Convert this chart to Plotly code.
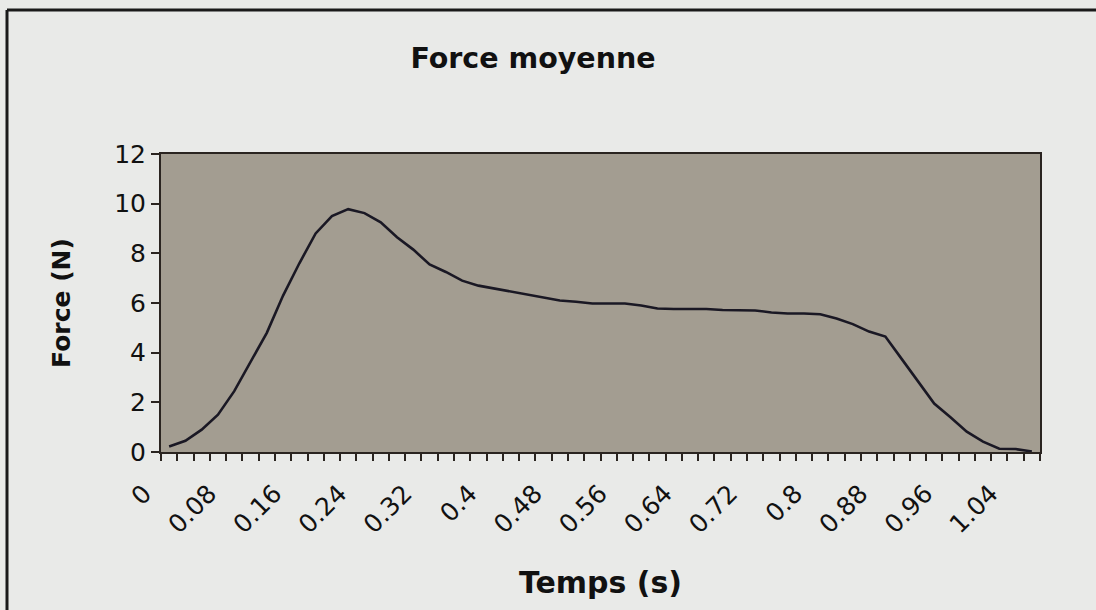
import plotly.graph_objects as go

# Time categories (s), one every 0.02 s
temps = ["0", "0.02", "0.04", "0.06", "0.08", "0.1", "0.12", "0.14", "0.16", "0.18",
         "0.2", "0.22", "0.24", "0.26", "0.28", "0.3", "0.32", "0.34", "0.36", "0.38",
         "0.4", "0.42", "0.44", "0.46", "0.48", "0.5", "0.52", "0.54", "0.56", "0.58",
         "0.6", "0.62", "0.64", "0.66", "0.68", "0.7", "0.72", "0.74", "0.76", "0.78",
         "0.8", "0.82", "0.84", "0.86", "0.88", "0.9", "0.92", "0.94", "0.96", "0.98",
         "1", "1.02", "1.04", "1.06"]

# Average force (N)
force = [0.22, 0.45, 0.90, 1.50, 2.45, 3.60, 4.80, 6.30, 7.60, 8.80,
         9.50, 9.78, 9.62, 9.25, 8.65, 8.15, 7.55, 7.25, 6.90, 6.70,
         6.58, 6.45, 6.32, 6.20, 6.10, 6.05, 5.98, 5.98, 5.98, 5.90,
         5.78, 5.76, 5.76, 5.76, 5.72, 5.70, 5.70, 5.62, 5.58, 5.58,
         5.55, 5.38, 5.15, 4.85, 4.65, 3.75, 2.85, 1.95, 1.40, 0.82,
         0.42, 0.13, 0.12, 0.02]

# Labelled categories (every 4th)
tick_labels = ["0", "0.08", "0.16", "0.24", "0.32", "0.4", "0.48", "0.56",
               "0.64", "0.72", "0.8", "0.88", "0.96", "1.04"]

y_ticks = [0, 2, 4, 6, 8, 10, 12]

ticktext = [t if t in tick_labels else "" for t in temps]

W, H = 1096, 610
L, R, T, B = 161, 56, 154, 158
pw, ph = W - L - R, H - T - B

def px_to_paper_x(px):
    return (px - L) / pw

def px_to_paper_y(py):
    return (H - B - py) / ph

dark = "#2a2420"
font_fam = "DejaVu Sans"
page_bg = "#e9eae8"

fig = go.Figure()
fig.add_trace(go.Scatter(
    x=temps, y=force, mode="lines",
    line=dict(color="#1a1824", width=2.6),
    hoverinfo="x+y", showlegend=False,
))

fig.update_layout(
    width=W, height=H,
    margin=dict(l=L, r=R, t=T, b=B),
    paper_bgcolor=page_bg,
    plot_bgcolor="#a39d91",
    title=dict(text="<b>Force moyenne</b>", x=533 / W, xref="container", xanchor="center",
               y=1 - 58 / H, yref="container", yanchor="middle",
               font=dict(family=font_fam, size=28.5, color="#111111")),
    xaxis=dict(
        type="category", categoryorder="array", categoryarray=temps,
        range=[-0.5, len(temps) - 0.5],
        tickmode="array", tickvals=temps, ticktext=ticktext,
        tickson="boundaries", ticks="outside", ticklen=7, tickwidth=1.5, tickcolor=dark,
        tickangle=-45, tickfont=dict(family=font_fam, size=25, color="#111111"),
        ticklabelshift=-25, ticklabelstandoff=15,
        showline=True, linecolor=dark, linewidth=2, mirror=True,
        showgrid=False, zeroline=False,
        title=dict(text="<b>Temps (s)</b>", standoff=34,
                   font=dict(family=font_fam, size=30, color="#111111")),
        automargin=False,
    ),
    yaxis=dict(
        range=[0, 12], tickmode="array", tickvals=y_ticks,
        ticks="outside", ticklen=8, tickwidth=1.5, tickcolor=dark,
        tickfont=dict(family=font_fam, size=25, color="#111111"),
        showline=True, linecolor=dark, linewidth=2, mirror=True,
        showgrid=False, zeroline=False,
        title=dict(text="<b>Force (N)</b>", standoff=36,
                   font=dict(family=font_fam, size=25, color="#111111")),
        automargin=False,
    ),
    shapes=[
        dict(type="line", xref="paper", yref="paper",
             x0=px_to_paper_x(7), x1=px_to_paper_x(W + 10),
             y0=px_to_paper_y(10), y1=px_to_paper_y(10),
             line=dict(color="#1a1a1a", width=3)),
        dict(type="line", xref="paper", yref="paper",
             x0=px_to_paper_x(7), x1=px_to_paper_x(7),
             y0=px_to_paper_y(10), y1=px_to_paper_y(H + 10),
             line=dict(color="#1a1a1a", width=3)),
    ],
)

fig.write_html(
    "out.html",
    config={"displayModeBar": False},
    post_script="document.body.style.margin='0';document.body.style.background='%s';" % page_bg,
)
